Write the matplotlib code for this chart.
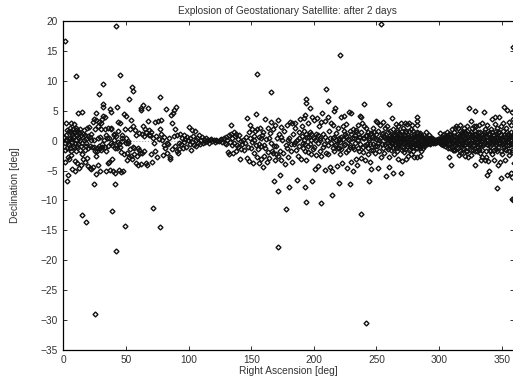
import matplotlib
matplotlib.use('Agg')
import matplotlib.pyplot as plt

plt.rcParams['font.family'] = ['Liberation Sans', 'DejaVu Sans']

# (right ascension, declination), split up by region
far_above = [(1.6, 16.7), (41.8, 19.2), (9.8, 10.9), (45.5, 11), (155, 11.1), (32, 9.5), (28.7, 7.9), (55, 9),
             (55.6, 8.3), (52.4, 7), (77.4, 7.3), (253.9, 19.55), (221, 14.3), (165.5, 8.2), (210, 8.6),
             (193.4, 7), (193.7, 6.4), (211, 6.6), (239.7, 6.2), (260, 6.2), (358.9, 15.7)]
far_below = [(15.2, -12.4), (17.8, -13.6), (38.6, -11.8), (49, -14.2), (71.5, -11.3), (76.9, -14.5),
             (42.3, -18.4), (25.3, -29.1), (177.5, -11.5), (171.4, -17.8), (193.7, -10.2), (206, -10.4),
             (214.2, -9.1), (238, -12.2), (241.6, -30.5), (358.6, -9.9), (171.4, -8.5), (180.4, -7.8),
             (193, -7.8), (219.8, -7.1), (228.8, -7.2), (244, -6.8), (186.8, -6.6), (198.8, -6.8),
             (168, -6.8), (173, -5.8), (346, -7.9), (358, -9.7), (24.5, -7.3), (41.2, -7.3), (2.7, -6.8)]

cloud_0_50 = [(0.5, 0.6), (1.2, -0.4), (1.5, -3.5), (2, 1), (2.3, 2.9), (2.8, -1.2), (3.1, 0.2), (3.4, -2.8),
              (3.9, -5.7), (4.2, 1.6), (4.4, -0.8), (4.9, -3.1), (5.3, 0.5), (5.5, 2.2), (5.8, -1.8), (6.1, 3),
              (6.4, -2.4), (6.8, 1.1), (7.1, -0.2), (7.3, -4.7), (7.8, 1.9), (8.1, 0.7), (8.3, 2.8), (8.7, -1),
              (9, -3.4), (9.4, -5), (9.6, 1.4), (9.9, 0.1), (10.2, 2.2), (10.5, -1.8), (10.9, 1), (11.2, -3.7),
              (11.4, 4.7), (11.7, 1.7), (12, -0.6), (12.4, -4.5), (12.6, 0.4), (13, 2), (13.3, -1.6), (13.8, -4),
              (14, 0.9), (14.6, 4.8), (14.8, -0.3), (15.2, -2.2), (15.6, 1.2), (16, -3), (16.5, 0.1), (17, 0.9),
              (17.4, -3.5), (17.8, -0.9), (18.3, 0.3), (18.7, -2.9), (19.2, 2.1), (19.6, -4.2), (20, -1.2),
              (20.5, 2.3), (21, -4.6), (21.6, 0.6), (22, -4.8), (22.5, 1.2), (23, -1), (23.6, 3.2), (24, -4.4),
              (24.4, 3.6), (24.8, 0.2), (25.2, -1.8), (25.8, 4.6), (26, -5.6), (26.5, -2.6), (26.9, -1.2),
              (27.3, 2.4), (27.8, -4.1), (28.1, -0.9), (28.5, 3.1), (29, 0.7), (29.5, -5.1), (30, -1.5),
              (30.4, 1.9), (30.8, -0.5), (31.2, -1.1), (32, 6.1), (32, 5.7), (32, 4.1), (32.4, 0.2), (33, 1.9),
              (33.5, 4), (33.9, -1.7), (34.4, -5), (34.9, 0.4), (35.3, -3.7), (35.9, -0.9), (36.3, 0.5), (36.7, -3.5),
              (37, 5.3), (37.3, -4.9), (37.9, 2.2), (38, 4.8), (38.4, 1.9), (38.8, -3.1), (39.2, -0.8), (39.6, -5),
              (40.2, 1.2), (40.6, 1), (41, -5.4), (41.5, -1.3), (42, 0.8), (42.4, -0.7), (43, 5.6), (43.3, 3.2),
              (43.9, -0.2), (44.3, -4.9), (44.8, -0.5), (45.3, 3), (45.8, -5.3), (46.2, -1.9), (46.7, -0.1),
              (47.2, 1), (47.6, -5), (48.1, -2.2), (48.7, 4.5), (49.1, 1.9), (49.7, 4.1), (49.9, -0.4)]
extra_0_50 = [(1, -1.5), (1.9, 0.2), (3, 1.8), (3.6, -0.6), (4.7, 0.3), (5, -1.2), (6, 1.5), (6.6, 0.3), (7.5, -0.9),
              (8.5, 1.4), (9.2, -0.4), (10, 1.8), (10.8, -0.9), (11.5, 0.6), (12.2, 1.3), (13.5, 0.2), (14.3, -0.9),
              (16.2, 1.8), (17.2, -1.5), (18.5, -0.4), (19.5, 0.8), (21.2, -0.9), (22.3, 0.2), (24.2, -1), (25.5, 2),
              (26.2, 3.4), (27, -1.7), (27.6, 0.4), (29.2, -1.3), (30.2, 2.9), (31, 3.6), (33.3, -1.1), (34, 0.9),
              (36, 2.1), (38.2, -0.4), (40.5, 0.2), (42.8, -1.2), (44, 1.7), (45.5, -1), (46.5, 0.4)]
cloud_50_100 = [(50.3, 0.5), (50.8, -3.3), (51.2, -2), (51.7, 0), (52, -0.3), (52.5, -2.7), (53, -1.4), (53.5, 2),
                (54, 3.5), (54.4, -2.5), (55, -3), (55.3, -1), (55.8, 2.4), (56.2, -1.3), (56.8, -2.2), (57.3, 1.8),
                (57.8, -3.7), (58.3, 0.9), (58.9, -2.6), (59.3, -4), (59.8, -1.3), (60.3, 1.3), (60.8, -1.6), (61.2, -2),
                (62, 5.5), (62, 5.2), (62.4, -3.9), (62.8, 1.1), (63.2, -2.1), (63.7, 2.4), (64, 5.9), (64.4, 0.8),
                (64.8, -1.7), (65.4, 2), (65.8, -3.7), (66.4, 1.5), (66.8, -4), (67.3, 5.4), (67.7, 3.3), (68.2, 0.9),
                (68.8, 1.8), (69.3, 1), (69.8, -2.2), (70.2, 1.5), (70.8, -3.5), (71.4, 0.5), (72, -0.4), (72.8, 3.2),
                (73.5, -1.7), (74, 0.8), (74.9, -2.8), (75.4, 3.3), (76.3, 0.3), (77, 1.9), (77.8, 3.5), (78.3, 1.2),
                (78.9, 0.2), (79.4, -2.4), (80, -0.7), (80.6, 0.6), (81.2, -1.2), (82, 5.3), (82.5, -2), (83, -0.3),
                (83.8, -0.6), (84.4, 0.5), (84.9, -2.7), (85.3, -3.1), (86, 4.3), (86.6, -1.4), (86.9, 2.9), (87.5, 4.7),
                (88, 0.8), (88.6, 5.2), (89, -0.9), (89.4, 1.9), (90, 5.6), (90.4, -1.7), (90.9, 0.9), (91.5, -2),
                (92, -1.4), (92.6, -0.3), (93.2, 1.1), (93.9, -0.6), (94.5, 0.5), (95.3, -1.2), (96, 0.9), (96.7, -0.2),
                (97.5, 0.3), (98.3, -1), (99.1, 0.7), (99.8, 0.1)]
cloud_100_150 = [(100.3, 2.3), (100.8, -0.5), (101.4, 0.5), (102, -1.6), (102.4, 1.8), (103, -0.2), (103.7, 0.8),
                 (104.3, -0.8), (105, 1.7), (105.7, 0.2), (106.3, -0.9), (107, 0.5), (107.5, -0.3), (108.2, 0.9),
                 (109, -0.6), (109.8, 0.1), (110.5, 0.7), (111.2, -0.4), (112, 0.3), (113, -0.2), (113.8, 0.5),
                 (114.6, -0.1), (115.5, 0.2), (116.4, -0.3), (117.2, 0.1), (118, 0.3), (119, -0.1), (120, 0.1),
                 (121, -0.2), (122, 0.2), (123, 0), (124, -0.1), (125, 0.1), (126, 0.3), (127, -0.2), (128, 0.4),
                 (128.8, -0.3), (129.5, 0.6), (130.2, -0.5), (131, 0.2), (131.6, -1.9), (132, 0.9), (132.5, -2.3),
                 (133, -0.2), (133.6, 1.1), (134, 2.6), (134.4, -0.8), (135, 0.5), (135.5, -2), (136, 1.4), (136.5, -0.3),
                 (137, 0.8), (137.6, -1.8), (138, 1.2), (138.5, -0.7), (139.2, 0.3), (139.7, -1.1), (140.3, 0.9),
                 (141, -3.1), (141.6, -0.1), (142.2, -1.4), (143, -0.6), (143.8, 0.2), (144.5, -1.6), (145.2, -0.4),
                 (145.8, 0.7), (146.4, 3.8), (146.9, -2.9), (147.4, -1), (147.9, 1.5), (148.3, -3.4), (148.9, 2.7),
                 (149.4, 0.5), (149.9, -1.3)]
cloud_150_200 = [(150.4, -0.2), (150.9, 1.9), (151.3, -3.8), (151.9, 0.8), (152.4, -2.1), (153, 1.7), (153.5, -0.7),
                 (154, 4.5), (154.4, -2.7), (155, 1.9), (155.4, -1.4), (155.9, 0.6), (156.4, -3.8), (157, 2.1),
                 (157.6, -0.9), (158, -3.1), (158.6, 1), (159.2, -4.4), (159.7, 1.5), (160.4, -2.5), (161, 3.7),
                 (161.4, -1.2), (162, 0.3), (162.5, -3.6), (163, 2.2), (163.6, -1.9), (164.1, -2.9), (164.8, 1.3),
                 (165.4, -0.4), (166, 3.2), (166.6, -1.7), (167, -2.1), (167.5, 1.9), (168, -0.9), (168.6, -3.3),
                 (169.2, 2.6), (169.9, -2.2), (170.5, 0.4), (171.2, 3.5), (171.6, -2.6), (172.2, 1.2), (172.9, -1.7),
                 (173.4, 2.3), (174, -3.2), (174.8, 0.1), (175.6, -2.1), (176.2, 1.6), (177, -3.9), (177.5, -0.8),
                 (178.2, 2.7), (178.9, -1.3), (179.6, -2.7), (180.3, 0.5), (181, 3.1), (181.5, -1.8), (182.2, 3),
                 (182.9, -3.6), (183.5, 1.1), (184, -0.5), (184.7, 3), (185.3, 2.1), (186, -1.6), (186.6, 0.2), (187.1, -2.6),
                 (187.8, 1.4), (188.4, -0.9), (189, 3.6), (189.6, -3.1), (190.2, 0.8), (190.7, 2.4), (191.2, -0.4),
                 (191.8, 3.8), (192.3, 1.7), (192.8, -1.7), (193.3, 4.3), (193.9, -3.2), (194.4, 0.6), (195, 2.9),
                 (195.6, -0.9), (196.6, 5.4), (197, 1.5), (197.4, -2.3), (198, 0.2), (198.7, 3.9), (199.3, -1.4), (199.9, 0.4)]
extra_150_250 = [(152, 0.2), (156, -0.6), (158, 0.4), (160, -0.7), (164, 0.5), (170, -0.9), (174, 0.7), (179, 0.2),
                 (182, -0.6), (185, -0.2), (188, 0.5), (191, -1.2), (192, 0.2), (193, -0.5), (194, 1.2), (195, -1.9),
                 (196, 0.7), (197, -0.6), (198, 1.1), (200, -1), (201, 0.2), (203, 1), (205, 0.1), (207, -1.1), (209, 0.7),
                 (211, -0.8), (213, 0.4), (215, -1.2), (216, 0.6), (217, -0.7), (218, 0.2), (219, -1.3), (220, 0.5), (221, -0.2),
                 (222, -1.4), (223, 0.3), (224, 1.7), (225, -0.5), (226, 0.8), (227, -1.5), (228, 0.1), (229, -0.7), (230, 1.2),
                 (231, -1), (232, 0.5), (233, -0.3), (234, 1.8), (235, -1.3), (236, 0.7), (237, -0.5), (238, 1.5), (239, -1.9),
                 (240, 0.5), (241, -0.8), (242, 0.9), (243, -1.3), (244, 0.5), (245, -0.6), (246, 1.3), (247, -1.6), (248, 0.5),
                 (249, -0.9), (250, 1.1), (251, -0.3)]
cloud_200_250 = [(200.4, 3.5), (200.9, -4.7), (201.4, 1.1), (201.9, -2.4), (202.4, 3.8), (203, -0.4), (203.5, -4.3),
                 (204, 2.5), (204.6, 0.5), (205, -1.7), (205.5, 3.1), (206.1, -2.6), (206.7, 4.6), (207.3, 1.2),
                 (207.9, -0.6), (208.5, -4.9), (209, 3.3), (209.7, -2), (210.3, 0.1), (211, 3.9), (211.6, -2.3),
                 (212.2, 1.7), (212.9, -4.4), (213.5, 3), (214, -0.3), (214.5, -5), (215, 2.7), (215.6, 0.4), (216, 5),
                 (216.4, -1.7), (217, 5.5), (217.5, 1.3), (218, -0.5), (218.6, -4.3), (219.1, 2.1), (219.7, 0.2), (220.2, -1.2),
                 (220.8, -2.3), (221.6, 4), (222, 0.6), (222.5, -3.7), (223, 2.5), (223.8, 4.2), (224.3, -0.7),
                 (224.9, 1.1), (225.5, -1.9), (226, 2.8), (226.6, -4.6), (227.2, 0.3), (228, 4.8), (228.5, -1), (229, 1.7),
                 (229.4, 4.7), (230, -3.5), (230.5, 0.5), (231, -5.1), (231.6, 2), (232.2, -1.4), (232.8, 0.9), (233.4, -3),
                 (233.9, 1.4), (234.5, -4.1), (235, 0.1), (235.6, 2.7), (236.2, -1.7), (236.6, 0.6), (237, 4.1), (237.4, -2.9),
                 (238, 3.9), (238.5, 3), (239, 0.4), (239.6, -1.1), (240.2, 2.5), (240.7, -3.2), (241.3, 0.8), (241.9, 2.1),
                 (242.5, -0.6), (243, 1.4), (243.6, -2.3), (244.1, 0.2), (244.7, -3.6), (245.2, 1.2), (245.8, -1.5),
                 (246, -4.7), (246.5, 0.6), (247, 2.1), (247.6, -0.5), (248.2, 1.5), (248.8, -2.1), (249.3, 0.3), (249.9, 3.3)]
cloud_250_300 = [(250.3, -0.9), (250.7, 3.1), (251, -4.6), (251.5, 1.7), (252, -1.8), (252.5, 0.4), (253, 2.7), (253.6, -2.7),
                 (254.1, 1.1), (254.7, -0.6), (255.3, 3.2), (255.8, -2), (256.3, 0.8), (256.9, 2.2), (257.6, -5.9),
                 (258, -1.1), (258.6, 2.4), (259.1, 0.4), (259.7, -4.4), (260.3, -2.7), (260.8, 1.6), (261.4, -1.5),
                 (262, 3.8), (262.5, -0.5), (263, 1.9), (263.4, -5.4), (264, -2.3), (264.6, 0.9), (265.2, 2.8), (265.8, -1.3),
                 (266.4, 1.4), (266.9, -3), (267.5, 2.5), (268.1, -0.8), (268.7, 1), (269.3, -5.4), (269.8, 3), (270.3, -3.4),
                 (270.9, 0.7), (271.4, 2.2), (272, -1.9), (272.6, 3), (273.2, -3), (273.7, 1.6), (274.3, 2.8), (274.9, -2.6),
                 (275.5, 0.6), (276, 3), (276.6, -1.4), (277.2, 1.9), (277.8, -2.2), (278.4, 2.6), (279, -1), (279.6, 1.2),
                 (280.2, -2.7), (280.8, 0.8), (281.4, -1.2), (282, 4), (282, 3.3), (282.5, 2.6), (282.6, -2.7), (283.2, 1.3), (283.8, -0.9),
                 (284.4, -2.5), (285, 1), (285.7, -1.8), (286.4, 0.7), (287.2, -1.3), (288, 0.9), (288.8, -0.8), (289.6, 1.4),
                 (290.4, -0.6), (291.2, 0.4), (292, 1), (293, -0.5), (294, 0.5), (295, -0.3), (296, 0.2), (297, -0.2), (298, 0.1), (299, 0.3)]
cloud_300_360 = [(300.2, 0.3), (301, 1.3), (302, -0.5), (303, 0.9), (304, 1.2), (305, -0.9), (306, 1.5), (307, -1.2),
                 (308, -2.8), (308.6, 1), (309.5, -4), (310, 1.9), (310.8, -1.5), (311.6, 0.8), (312.3, 2.1), (313, -1.6),
                 (313.8, 2.4), (314.5, -1.1), (315, 2.2), (315.6, -2.4), (316.3, 0.9), (317, 2.6), (317.7, -2), (318.2, 1.4),
                 (319, -1.2), (319.6, 2.1), (320.4, -2.6), (321, 1.5), (321.8, -1.7), (322.5, 2.5), (323.2, -2.7), (324, 5.5),
                 (324.5, 1.1), (325.2, -2.4), (325.7, 3.3), (326.4, 2.1), (327, -1.5), (327.8, 2.5), (328.4, 1.1), (329, 5),
                 (329, -4.1), (329.8, 2.4), (330.5, -1.7), (331.2, 1.5), (332, 2.6), (332.7, -2), (333.4, -3.3), (334, 2.9),
                 (334.6, -2.7), (335.2, 1.2), (336, 4.8), (336.3, -3.2), (337, 1.9), (337.5, -2.8), (338.2, 2.7), (338.5, -5.8),
                 (339, -3.4), (339.6, 1.3), (340, -5), (340.5, -1.5), (341.2, 2), (342, -2.3), (342.5, 3.7), (343, 0.9), (343.6, -3.3),
                 (344.2, 2.8), (344.6, 3.9), (345.2, -1.4), (346, 2.1), (346.6, -4.1), (347.2, 1.4), (347.8, 4), (348.3, -3.5),
                 (349, 2.5), (349.7, -6.3), (350.2, -2.2), (350.8, 3), (351.4, 1), (352, 5.6), (352.5, -3.2), (353.1, 2.2),
                 (353.6, -1.5), (354, -5.7), (354.4, 5.2), (354.9, 1.2), (355.4, 3.1), (356, -2.4), (356.6, 0.8), (357.2, 2.6),
                 (357.6, -5.4), (358, 4.8), (358.2, -6.1), (358.5, -1.9), (358.9, 3.6), (359.4, 1.3), (359.7, -3.7)]
core_band = [(252, 0.2), (254, -0.5), (256, 0.6), (258, -0.3), (260, 0.8), (261, -0.8), (262.5, 0.3), (264, 1.2), (264.5, -0.6),
             (266, 0.4), (267, -1.1), (268, 1.3), (269, -0.2), (270, 0.6), (271, -1.2), (272, 1), (273, 0), (274, -0.9),
             (275, 0.9), (276, -0.5), (277, 0.3), (278, -1.1), (279, 0.7), (280, 0.1), (281, -0.7), (282, 0.5), (283, -0.2),
             (284, 0.6), (285, -0.7), (286, 0.2), (287, 0.5), (288, -0.3), (289, 0.2), (290, -0.2), (291, 0.3), (292, -0.1),
             (293, 0.2), (294, -0.2), (295, 0.1), (296, -0.1), (297, 0), (298, -0.1), (299, 0), (300, 0), (301, -0.2), (302, 0.3),
             (303, -0.3), (304, 0.4), (305, 0), (306, 0.4), (307, 0.2), (308, -0.6), (309, 0.6), (310, -0.4), (311, 0.2),
             (312, -0.8), (313, 0.7), (314, 0.1), (315, -0.5), (316, 0.8), (317, -0.6), (318, 0.2), (319, 0.9), (320, -0.7),
             (321, 0.4), (322, -1), (323, 0.7), (324, 0), (325, -0.8), (326, 0.9), (327, 0.2), (328, -0.7), (329, 1), (330, 0),
             (331, -1), (332, 0.6), (333, -0.4), (334, 1), (335, -0.8), (336, 0.3), (337, 1), (338, -0.6), (339, 0.2), (340, 1.1),
             (341, -0.9), (342, 0.5), (343, -0.2), (344, 1), (345, -0.5), (346, 0.5), (347, -1), (348, 0.2), (349, 1), (350, -0.6),
             (351, 0.3), (352, -1), (353, 0.7), (354, -0.2), (355, 0.9), (356, -0.8), (357, 0.3), (358, -0.5), (359, 0.9)]
core_upper = [(255, 1.3), (257, 0.4), (259, 1.5), (261.5, 0.6), (263, 0.9), (265, 0.2), (266.5, 1.8), (268, 0.5), (270, 1.7), (271.5, 0.3),
              (273, 1.5), (274.5, 0.5), (276, 1.6), (277.5, 0.8), (279, 1.7), (280.5, 0.6), (282, 1.5), (283.5, 0.4), (285, 1.3), (286.5, 0.6),
              (288, 0.5), (289.5, 0.7), (291, 0.2), (292.5, 0.4), (294, 0.2), (295.5, 0.3), (297, 0.2), (298.5, 0.2), (300, 0.3),
              (301.5, 0.5), (303, 0.4), (304.5, 0.7), (306, 0.8), (307.5, 1.2), (309, 1.1), (310.5, 0.5), (312, 1.4), (313.5, 0.5), (315, 1.2),
              (316.5, 1.7), (318, 0.8), (319.5, 1.4), (321, 0.7), (322.5, 1.7), (324, 0.9), (325.5, 1.5), (327, 0.7), (328.5, 1.7), (330, 0.8),
              (331.5, 0.5), (333, 1.5), (334.5, 0.5), (336, 1.4), (337.5, 0.6), (339, 1.7), (340.5, 0.5), (342, 1.5), (343.5, 0.4), (345, 1.6),
              (346.5, 0.7), (348, 1.4), (349.5, 0.4), (351, 1.7), (352.5, 0.6), (354, 1.5), (355.5, 0.4), (357, 1.5), (358.5, 0.6)]
core_lower = [(255, -1.2), (257, -0.5), (259, -1.4), (261.5, -0.3), (263, -1.3), (265, -0.5), (266.5, -1.7), (268, -0.6), (270, -1.5), (271.5, -0.4),
              (273, -1.4), (274.5, -0.5), (276, -1.6), (277.5, -0.7), (279, -1.7), (280.5, -0.4), (282, -1.3), (283.5, -0.6), (285, -1.2), (286.5, -0.5),
              (288, -0.9), (289.5, -0.5), (291, -0.3), (292.5, -0.4), (294, -0.1), (295.5, -0.2), (297, -0.3), (298.5, -0.2), (300, -0.2),
              (301.5, -0.5), (303, -0.7), (304.5, -0.4), (306, -0.8), (307.5, -0.5), (309, -1.2), (310.5, -1), (312, -1.5), (313.5, -0.4), (315, -1.3),
              (316.5, -1.7), (318, -0.6), (319.5, -1.4), (321, -0.5), (322.5, -1.8), (324, -0.7), (325.5, -1.5), (327, -0.8), (328.5, -1.7), (330, -0.9),
              (331.5, -1.5), (333, -0.7), (334.5, -1.6), (336, -0.5), (337.5, -1.7), (339, -0.8), (340.5, -1.8), (342, -0.6), (343.5, -1.5), (345, -0.8),
              (346.5, -1.7), (348, -0.4), (349.5, -1.8), (351, -0.5), (352.5, -1.4), (354, -0.7), (355.5, -1.7), (357, -0.6), (358.5, -1.5)]
# the black middle of the band, right of about 260 deg
core_middle = [(259.5, 0.1), (261, 0.3), (262, -0.2), (263.5, 0.2), (264.5, 0.5), (265.5, -0.2), (267, 0.2), (268.5, -0.3), (269.5, 0.3),
               (271, 0.1), (272.5, -0.4), (274, 0.3), (275.5, -0.1), (277, -0.4), (278, 0.4), (279.5, -0.2), (281, 0.2), (282.5, -0.3),
               (284, -0.2), (285.5, 0.1), (287, 0), (288.5, 0.1), (290, 0), (291.5, -0.1), (293, 0), (294.5, 0), (296, 0), (297.5, 0.1),
               (299, -0.1), (300.5, 0.1), (302, 0), (303.5, 0.1), (305, -0.2), (306.5, 0.1), (308, 0.2), (309.5, -0.1), (311, -0.3), (312.5, 0.2),
               (314, -0.2), (315.5, 0.3), (317, 0.1), (318.5, -0.3), (320, 0.3), (321.5, -0.2), (323, 0.2), (324.5, -0.4), (326, 0.3), (327.5, -0.2),
               (329, 0.3), (330.5, -0.3), (332, 0.1), (333.5, -0.1), (335, 0.4), (336.5, -0.3), (338, 0.2), (339.5, -0.4), (341, 0.3), (342.5, -0.1),
               (344, 0.2), (345.5, -0.2), (347, 0.3), (348.5, -0.4), (350, 0.2), (351.5, -0.3), (353, 0.1), (354.5, 0.3), (356, -0.2), (357.5, 0.1), (359, -0.3)]

title = 'Explosion of Geostationary Satellite: after 2 days'
x_ticks = [0, 50, 100, 150, 200, 250, 300, 350]
y_ticks = [20, 15, 10, 5, 0, -5, -10, -15, -20, -25, -30, -35]

all_points = far_above + far_below + cloud_0_50 + extra_0_50 + cloud_50_100 + cloud_100_150 + cloud_150_200 \
    + extra_150_250 + cloud_200_250 + cloud_250_300 + cloud_300_360 + core_band + core_upper + core_lower + core_middle
ra = [p[0] for p in all_points]
dec = [p[1] for p in all_points]

fig = plt.figure(figsize=(5.13, 3.85), dpi=100)
ax = fig.add_axes([63.3 / 513, 1 - 349.7 / 385, 451 / 513, 328.4 / 385])

ax.axhline(0, color='#999999', lw=0.7, ls=(0, (1, 2)), zorder=1)
ax.plot(ra, dec, ls='none', marker='D', ms=2.5, mfc='none', mec='#111111', mew=1.0, zorder=2)

ax.set_xlim(0, 360)
ax.set_ylim(-35, 20)
ax.set_xticks(x_ticks)
ax.set_yticks(y_ticks)
ax.tick_params(direction='in', top=True, right=True, length=3, width=0.7, labelsize=7.3, pad=4, colors='#333333')
for spine in ax.spines.values():
    spine.set_linewidth(0.9)

ax.set_title(title, fontsize=7.3, pad=5.5, color='#333333', x=0.5 - 1.5 / 451)
ax.set_xlabel('Right Ascension [deg]', fontsize=7.3, labelpad=0.5, color='#333333')
ax.set_ylabel('Declination [deg]', fontsize=7.3, labelpad=15, color='#333333')

fig.savefig('out.png', dpi=100)
